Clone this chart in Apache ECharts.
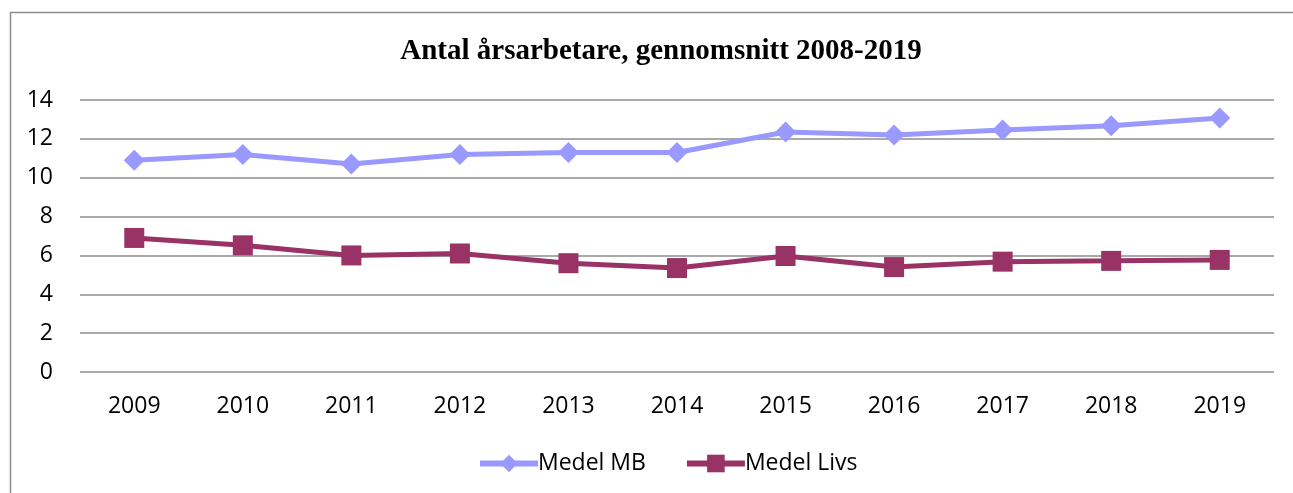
<!DOCTYPE html>
<html>
<head>
<meta charset="utf-8">
<script src="https://cdn.jsdelivr.net/npm/echarts@6/dist/echarts.min.js"></script>
<style>
  html, body { margin: 0; padding: 0; background: #fff; }
  #chart-container { width: 1293px; height: 493px; }
</style>
</head>
<body>
<div id="chart-container"></div>
<script>
const years = ["2009", "2010", "2011", "2012", "2013", "2014", "2015", "2016", "2017", "2018", "2019"];
const medelMB = [10.9, 11.2, 10.7, 11.2, 11.3, 11.3, 12.35, 12.2, 12.45, 12.68, 13.07];
const medelLivs = [6.9, 6.52, 6.0, 6.1, 5.6, 5.35, 5.97, 5.4, 5.68, 5.72, 5.77];
const yTicks = [0, 2, 4, 6, 8, 10, 12, 14];

const myChart = echarts.init(document.getElementById("chart-container"));

const labelFont = "'Open Sans', 'Liberation Sans', sans-serif";

const option = {
  animation: false,
  backgroundColor: "#fff",
  graphic: [
    {
      type: "rect",
      shape: { x: 10.5, y: 12.5, width: 1300, height: 520 },
      style: { fill: "none", stroke: "#8c8c8c", lineWidth: 1.5 },
      silent: true,
    },
  ],
  title: {
    text: "Antal årsarbetare, gennomsnitt 2008-2019",
    left: 656,
    textAlign: "center",
    top: 32,
    textStyle: {
      fontFamily: "'Liberation Serif', 'Times New Roman', serif",
      fontWeight: "bold",
      fontSize: 29,
      color: "#000",
    },
  },
  legend: {
    bottom: 13,
    left: 472,
    itemGap: 38,
    itemWidth: 58,
    itemHeight: 22,
    lineStyle: { width: 6 },
    textStyle: { fontFamily: labelFont, fontSize: 23, color: "#000", padding: [0, 0, 0, -5] },
    data: ["Medel MB", "Medel Livs"],
  },
  grid: {
    left: 80,
    right: 19,
    top: 100,
    bottom: 121,
  },
  xAxis: {
    type: "category",
    data: years,
    boundaryGap: true,
    axisLine: { show: false },
    axisTick: { show: false },
    axisLabel: {
      fontFamily: labelFont,
      fontSize: 23,
      color: "#000",
      margin: 23,
    },
  },
  yAxis: {
    type: "value",
    min: yTicks[0],
    max: yTicks[yTicks.length - 1],
    interval: 2,
    axisLine: { show: false },
    axisTick: { show: false },
    axisLabel: {
      fontFamily: labelFont,
      fontSize: 23,
      color: "#000",
      margin: 27,
    },
    splitLine: { lineStyle: { color: "#8c8c8c", width: 1.5 } },
  },
  series: [
    {
      name: "Medel MB",
      type: "line",
      data: medelMB,
      symbol: "diamond",
      symbolSize: 21,
      color: "#9999ff",
      lineStyle: { width: 5, color: "#9999ff" },
      itemStyle: { color: "#9999ff" },
    },
    {
      name: "Medel Livs",
      type: "line",
      data: medelLivs,
      symbol: "rect",
      symbolSize: 20,
      color: "#993366",
      lineStyle: { width: 5, color: "#993366" },
      itemStyle: { color: "#993366" },
    },
  ],
};

myChart.setOption(option);
</script>
</body>
</html>
